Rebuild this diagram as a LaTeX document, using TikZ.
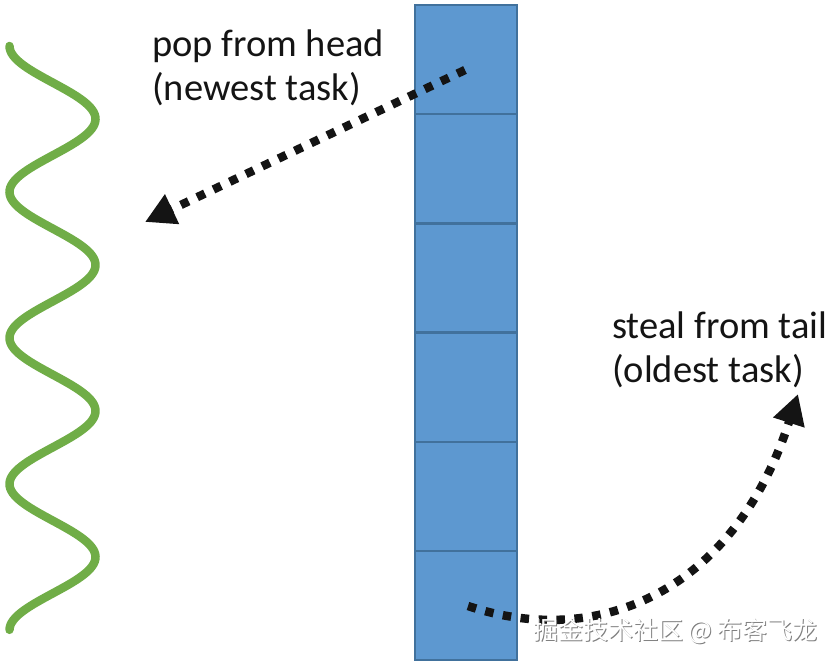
\documentclass[tikz,border=0pt]{standalone}
\usepackage{fontspec}
\setmainfont{Carlito}
\newfontfamily\cjk{Noto Sans CJK SC}
\usetikzlibrary{arrows.meta}
\definecolor{wavegreen}{RGB}{112,173,71}
\definecolor{cellblue}{RGB}{93,152,208}
\definecolor{cellborder}{RGB}{65,113,156}
\definecolor{inkblack}{RGB}{20,20,20}

\tikzset{
  cell/.style={draw=cellborder, fill=cellblue, line width=2.5pt,
    minimum width=102pt, minimum height=109.2pt, inner sep=0pt},
  dotarrow/.style={draw=inkblack, line width=8.5pt, dash pattern=on 8.5pt off 9.5pt,
    -{Triangle[length=30pt,width=31pt]}},
  textnote/.style={anchor=base west, inner sep=0pt, text=inkblack,
    font=\fontsize{38.5}{45}\selectfont},
  wmark/.style={inner sep=0pt, font=\cjk\fontsize{25}{30}\selectfont}
}

\begin{document}
\begin{tikzpicture}[x=1pt,y=-1pt]
\useasboundingbox (0,0) rectangle (838,663);

% worker thread
\draw[wavegreen, line width=8.5pt, line cap=round]
  plot[domain=0:8, samples=240, smooth] ({52.5-43*cos(\x*180)}, {46+73*\x});

% deque cells
\foreach \i in {0,...,5}
  \node[cell] (c\i) at (466, {5+54.6+109.2*\i}) {};

% labels
\node[textnote] (pop1) at (152,57) {pop from head};
\node[textnote] (pop2) at (152,101) {(newest task)};
\node[textnote] (steal1) at (612,338) {steal from tail};
\node[textnote] (steal2) at (612,382) {(oldest task)};

% arrows
\coordinate (popstart) at (465,70);
\coordinate (poptip) at (145,222);
\draw[dotarrow] (popstart) -- (poptip);

\coordinate (stealstart) at (468,606);
\coordinate (stealtip) at (798,394);
\draw[dotarrow] (stealstart) .. controls (600,650) and (735,590) .. (stealtip);

% watermark
\node[wmark, text=gray] (wmshade) at (676.5,632.5) {掘金技术社区 @ 布客飞龙};
\node[wmark, text=white] (wmtext) at (675.5,631.5) {掘金技术社区 @ 布客飞龙};
\end{tikzpicture}
\end{document}
